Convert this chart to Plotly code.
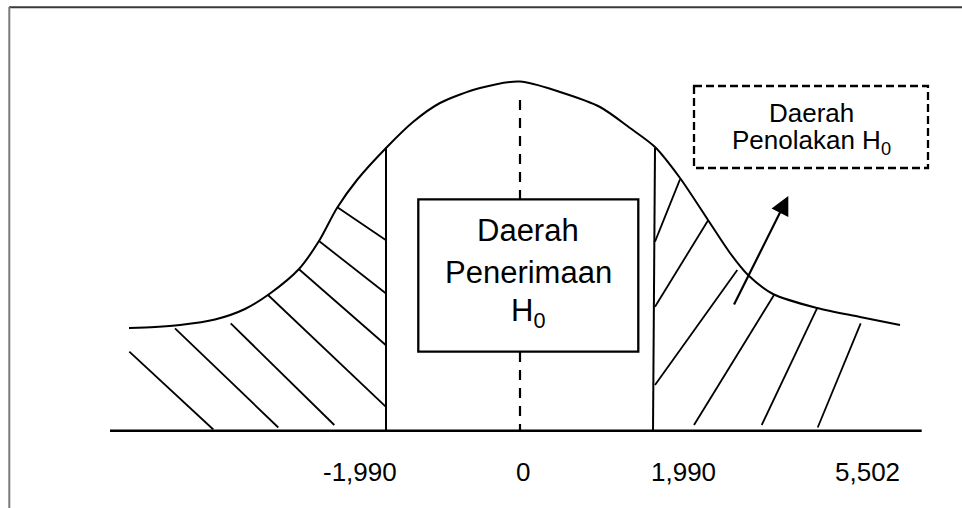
import plotly.graph_objects as go

# ---- data (diagram units = pixels of the 962x508 image) ----
curve_x = [129, 155, 180, 215, 245, 270, 299, 319, 337, 357, 387, 413, 440, 480, 520,
           560, 600, 630, 655, 680, 708, 730, 748, 773, 817, 860, 900]
curve_y = [328, 327, 325, 319.5, 309, 293.5, 269, 241, 208, 180, 147, 122, 103, 88, 81.5,
           92, 107, 128, 147, 178, 220, 253, 275, 294, 308, 317, 325]

hatch_left_x0 = [337, 319, 299, 268, 230.7, 175, 129.3]
hatch_left_y0 = [207, 241, 269.3, 295, 323.3, 328.3, 351.7]
hatch_left_x1 = [385.7, 385.7, 385.7, 385.7, 334.3, 278.3, 213.3]
hatch_left_y1 = [240, 293.3, 345, 406.7, 425, 427.5, 429.5]

hatch_right_x0 = [680, 708.3, 737.3, 774, 817, 860.7]
hatch_right_y0 = [179.3, 220, 270, 295, 308.3, 323.3]
hatch_right_x1 = [655, 655, 655, 694, 761.7, 817.7]
hatch_right_y1 = [241.7, 306.7, 385, 425, 425, 427.5]

baseline_x = [110, 921.7]
baseline_y = [430.7, 430.7]

crit_left_x = [386, 386]
crit_left_y = [147.5, 430.7]
crit_right_x = [655, 653]
crit_right_y = [148, 430.7]
center_x = [520, 520]
center_y = [100, 430.7]

tick_labels = ["-1,990", "0", "1,990", "5,502"]
tick_label_x = [360, 523, 683, 867]
tick_label_y = 471.5

accept_lines = ["Daerah", "Penerimaan", "H<sub>0</sub>"]
accept_line_y = [230, 271.7, 313.3]
reject_lines = ["Daerah", "Penolakan H<sub>0</sub>"]
reject_line_y = [113, 141.7]

FONT = "Liberation Sans, Arial, sans-serif"

fig = go.Figure()

def seg_trace(x0, y0, x1, y1, width=1.8, dash=None):
    xs, ys = [], []
    for a, b, c, d in zip(x0, y0, x1, y1):
        xs += [a, c, None]
        ys += [b, d, None]
    return go.Scatter(x=xs, y=ys, mode="lines",
                      line=dict(color="black", width=width, dash=dash),
                      hoverinfo="skip", showlegend=False)

fig.add_trace(seg_trace(hatch_left_x0, hatch_left_y0, hatch_left_x1, hatch_left_y1))
fig.add_trace(seg_trace(hatch_right_x0, hatch_right_y0, hatch_right_x1, hatch_right_y1))

fig.add_trace(go.Scatter(x=curve_x, y=curve_y, mode="lines",
                         line=dict(color="black", width=2, shape="spline", smoothing=0.8),
                         hoverinfo="skip", showlegend=False))
fig.add_trace(go.Scatter(x=baseline_x, y=baseline_y, mode="lines",
                         line=dict(color="black", width=2.4), showlegend=False, hoverinfo="skip"))
fig.add_trace(go.Scatter(x=crit_left_x, y=crit_left_y, mode="lines",
                         line=dict(color="black", width=2), showlegend=False, hoverinfo="skip"))
fig.add_trace(go.Scatter(x=crit_right_x, y=crit_right_y, mode="lines",
                         line=dict(color="black", width=2), showlegend=False, hoverinfo="skip"))
fig.add_trace(go.Scatter(x=center_x, y=center_y, mode="lines",
                         line=dict(color="black", width=2.2, dash="10px,8px"),
                         showlegend=False, hoverinfo="skip"))

shapes = [
    # frame of the picture
    dict(type="line", xref="x", yref="y", x0=9, y0=7.3, x1=962, y1=7.3,
         line=dict(color="#3a3a3a", width=2)),
    dict(type="line", xref="x", yref="y", x0=9.3, y0=7, x1=9.3, y1=508,
         line=dict(color="#7a7a7a", width=2)),
    # acceptance box
    dict(type="rect", xref="x", yref="y", x0=418.3, y0=199.3, x1=638.3, y1=351.7,
         line=dict(color="black", width=2.3), fillcolor="white", layer="above"),
    # rejection label box (dashed)
    dict(type="rect", xref="x", yref="y", x0=694, y0=86, x1=928, y1=168,
         line=dict(color="black", width=2.3, dash="8px,4px"), fillcolor="rgba(0,0,0,0)"),
]

annotations = []
for t, y in zip(accept_lines, accept_line_y):
    annotations.append(dict(x=528.3, y=y, xref="x", yref="y", text=t, showarrow=False,
                            xanchor="center", yanchor="middle", height=38,
                            font=dict(family=FONT, size=31, color="black")))
for t, y in zip(reject_lines, reject_line_y):
    annotations.append(dict(x=811, y=y, xref="x", yref="y", text=t, showarrow=False,
                            xanchor="center", yanchor="middle", height=26,
                            font=dict(family=FONT, size=26, color="black")))
for t, x in zip(tick_labels, tick_label_x):
    annotations.append(dict(x=x, y=tick_label_y, xref="x", yref="y", text=t, showarrow=False,
                            xanchor="center", yanchor="middle",
                            font=dict(family=FONT, size=26, color="black")))
# arrow pointing to the rejection label
annotations.append(dict(x=788.3, y=196, ax=733.3, ay=306, xref="x", yref="y",
                        axref="x", ayref="y", text="", showarrow=True,
                        arrowhead=2, arrowsize=1.7, arrowwidth=2.2, arrowcolor="black",
                        standoff=0))

fig.update_layout(
    width=962, height=508,
    margin=dict(l=0, r=0, t=0, b=0),
    paper_bgcolor="white", plot_bgcolor="white",
    xaxis=dict(range=[0, 962], visible=False, fixedrange=True),
    yaxis=dict(range=[508, 0], visible=False, fixedrange=True),
    shapes=shapes, annotations=annotations, showlegend=False,
)

fig.write_html("out.html", config={"displayModeBar": False},
               post_script="document.body.style.margin='0px';document.body.style.padding='0px';")
